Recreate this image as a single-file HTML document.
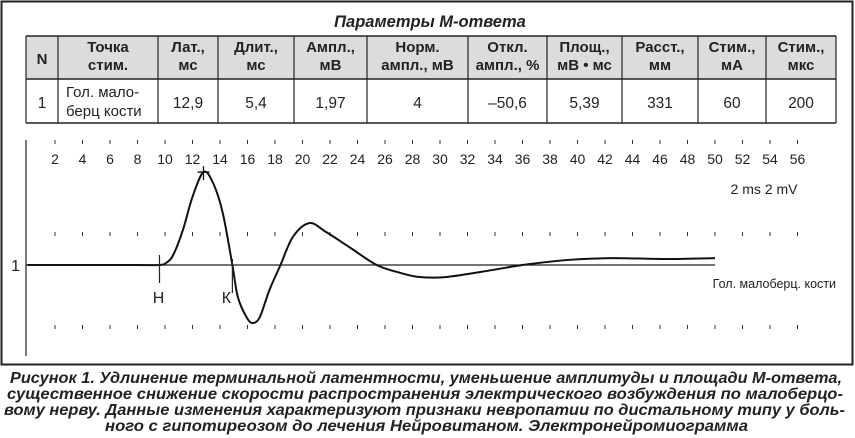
<!DOCTYPE html>
<html><head><meta charset="utf-8"><style>
html,body{margin:0;padding:0;background:#fff;}
svg{display:block;font-family:"Liberation Sans",sans-serif;}
</style></head><body>
<svg id="c" width="855" height="438" viewBox="0 0 855 438">
<rect x="1.5" y="1.5" width="851" height="363" fill="none" stroke="#222" stroke-width="2"/>
<text x="430" y="27" text-anchor="middle" font-size="16.5" font-weight="bold" font-style="italic" fill="#222">Параметры М-ответа</text>
<g id="tbl"></g>
<g id="chart"></g>
<g font-size="15.5" font-weight="bold" font-style="italic" fill="#222">
<text x="10" y="383" textLength="832" lengthAdjust="spacingAndGlyphs">Рисунок 1. Удлинение терминальной латентности, уменьшение амплитуды и площади М-ответа,</text>
<text x="7" y="399" textLength="836" lengthAdjust="spacingAndGlyphs">существенное снижение скорости распространения электрического возбуждения по малоберцо-</text>
<text x="4" y="415" textLength="841" lengthAdjust="spacingAndGlyphs">вому нерву. Данные изменения характеризуют признаки невропатии по дистальному типу у боль-</text>
<text x="105" y="431" textLength="643" lengthAdjust="spacingAndGlyphs">ного с гипотиреозом до лечения Нейровитаном. Электронейромиограмма</text>
</g>
</svg>
<script>
// ---- table data ----
const colEdges=[26,58,158,218,294,367,468,547,622,698,766,836];
const headers=[["N"],["Точка","стим."],["Лат.,","мс"],["Длит.,","мс"],["Ампл.,","мВ"],["Норм.","ампл., мВ"],["Откл.","ампл., %"],["Площ.,","мВ • мс"],["Расст.,","мм"],["Стим.,","мА"],["Стим.,","мкс"]];
const rowVals=["1","","12,9","5,4","1,97","4","–50,6","5,39","331","60","200"];
// ---- chart data ----
const times=[0,4,8,9.6,10.1,10.6,11.3,12.0,12.8,13.5,14.2,14.9,15.3,15.96,16.4,16.9,17.6,18.4,19.3,20.5,21.7,23.5,25.4,27.1,28.5,30.5,33.8,36,39.3,42.5,46.4,50];
const volts=[0,0,0,0,0.05,0.22,0.76,1.48,2.02,1.78,1.13,0,-0.70,-1.15,-1.26,-1.13,-0.54,0,0.61,0.91,0.72,0.37,0,-0.17,-0.26,-0.26,-0.11,0,0.11,0.15,0.13,0.15];
const tickLabels=[2,4,6,8,10,12,14,16,18,20,22,24,26,28,30,32,34,36,38,40,42,44,46,48,50,52,54,56];
const markerH=9.6, markerK=14.9, peakT=12.8, peakV=2.02;

const NS="http://www.w3.org/2000/svg";
function mk(tag,attrs,parent){const e=document.createElementNS(NS,tag);for(const k in attrs)e.setAttribute(k,attrs[k]);parent.appendChild(e);return e;}
const tbl=document.getElementById('tbl');
const T0=36,T1=79,T2=123;
const hb=mk('rect',{x:26,y:T0,width:810,height:T1-T0,fill:'#dcdcdc'},tbl);


[T0,T1,T2].forEach(y=>{const l=mk('line',{x1:26,x2:836,y1:y,y2:y,stroke:'#222','stroke-width':1.5},tbl);

});
colEdges.forEach(x=>{const l=mk('line',{x1:x,x2:x,y1:T0,y2:T2,stroke:'#222','stroke-width':1.2},tbl);

});
headers.forEach((h,i)=>{const cx=(colEdges[i]+colEdges[i+1])/2;
 h.forEach((s,j)=>{const y=h.length===1?64:(j?70:52);
  const t=mk('text',{x:cx,y:y,'text-anchor':'middle','font-size':15,'font-weight':'bold',fill:'#222'},tbl);t.textContent=s;
  
  });});
rowVals.forEach((s,i)=>{if(i===1)return;const cx=(colEdges[i]+colEdges[i+1])/2;
 const t=mk('text',{x:cx,y:108,'text-anchor':'middle','font-size':15.5,fill:'#222'},tbl);t.textContent=s;
 
 });
[["Гол. мало-",97],["берц кости",116]].forEach(([s,y])=>{const t=mk('text',{x:66,y:y,'font-size':15,fill:'#222'},tbl);t.textContent=s;
 
 });

// chart
const ch=document.getElementById('chart');
const X=t=>27.5+13.75*t, Y=v=>265-46*v;
const ax=mk('line',{x1:26,x2:26,y1:140,y2:356,stroke:'#222','stroke-width':1.2},ch);


tickLabels.forEach(t=>{
 const lb=mk('text',{x:X(t),y:164,'text-anchor':'middle','font-size':14,fill:'#222'},ch);lb.textContent=t;
 
 
 [142,234,327].forEach(y=>{const d=mk('line',{x1:X(t),x2:X(t),y1:y-2,y2:y+2,stroke:'#333','stroke-width':1},ch);
  
  });
});
const ms=mk('text',{x:X(56),y:194,'text-anchor':'end','font-size':14,fill:'#222'},ch);ms.textContent='2 ms 2 mV';


const one=mk('text',{x:20,y:271,'text-anchor':'end','font-size':16,fill:'#222'},ch);one.textContent='1';


const bl=mk('line',{x1:26,x2:X(50),y1:Y(0),y2:Y(0),stroke:'#222','stroke-width':1.2},ch);


const tl=mk('text',{x:836,y:288,'text-anchor':'end','font-size':12.5,fill:'#222'},ch);tl.textContent='Гол. малоберц. кости';


// smooth curve (catmull-rom)
const P=times.map((t,i)=>[X(t),Y(volts[i])]);
let d=`M${P[0][0]},${P[0][1]}`;
for(let i=0;i<P.length-1;i++){const p0=P[Math.max(0,i-1)],p1=P[i],p2=P[i+1],p3=P[Math.min(P.length-1,i+2)];
 d+=` C${p1[0]+(p2[0]-p0[0])/6},${p1[1]+(p2[1]-p0[1])/6} ${p2[0]-(p3[0]-p1[0])/6},${p2[1]-(p3[1]-p1[1])/6} ${p2[0]},${p2[1]}`;}
const cv=mk('path',{d:d,fill:'none',stroke:'#111','stroke-width':2},ch);


// markers
const mh=mk('line',{x1:X(markerH),x2:X(markerH),y1:Y(0)-10,y2:Y(0)+18,stroke:'#222','stroke-width':1.2},ch);


const th=mk('text',{x:X(markerH)-1,y:303,'text-anchor':'middle','font-size':16,fill:'#222'},ch);th.textContent='Н';


const mkk=mk('line',{x1:X(markerK),x2:X(markerK),y1:Y(0)-6,y2:Y(0)+28,stroke:'#222','stroke-width':1.2},ch);


const tk=mk('text',{x:X(markerK)-6,y:303,'text-anchor':'middle','font-size':16,fill:'#222'},ch);tk.textContent='К';


const pk=mk('path',{d:`M${X(peakT)-6},${Y(peakV)}h12M${X(peakT)},${Y(peakV)-6}v14`,stroke:'#111','stroke-width':1.3},ch);


</script>
</body></html>
